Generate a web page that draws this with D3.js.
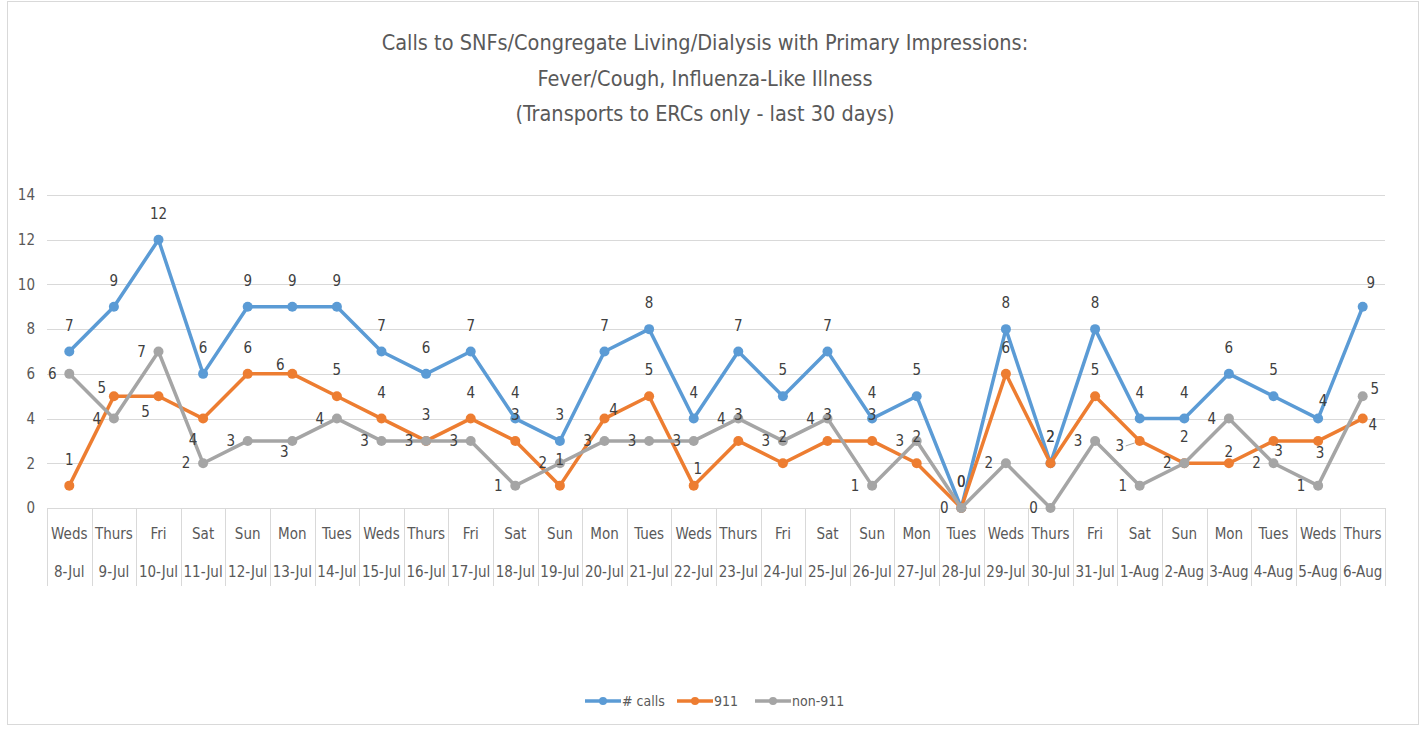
<!DOCTYPE html>
<html>
<head>
<meta charset="utf-8">
<script src="https://cdn.jsdelivr.net/npm/d3@7"></script>
<style>
  body { margin: 0; background: #fff; }
  svg text { font-family: "Liberation Sans Narrow", "DejaVu Sans Condensed", sans-serif; fill: #595959; }
</style>
</head>
<body>
<svg id="chart" width="1426" height="731"></svg>
<script>

// chart data
var days = [ 'Weds', 'Thurs', 'Fri', 'Sat', 'Sun', 'Mon', 'Tues', 'Weds', 'Thurs', 'Fri', 'Sat', 'Sun', 'Mon', 'Tues', 'Weds',
             'Thurs', 'Fri', 'Sat', 'Sun', 'Mon', 'Tues', 'Weds', 'Thurs', 'Fri', 'Sat', 'Sun', 'Mon', 'Tues', 'Weds', 'Thurs' ];
var dates = [ '8-Jul', '9-Jul', '10-Jul', '11-Jul', '12-Jul', '13-Jul', '14-Jul', '15-Jul', '16-Jul', '17-Jul', '18-Jul', '19-Jul',
              '20-Jul', '21-Jul', '22-Jul', '23-Jul', '24-Jul', '25-Jul', '26-Jul', '27-Jul', '28-Jul', '29-Jul', '30-Jul', '31-Jul',
              '1-Aug', '2-Aug', '3-Aug', '4-Aug', '5-Aug', '6-Aug' ];
var calls  = [ 7, 9, 12, 6, 9, 9, 9, 7, 6, 7, 4, 3, 7, 8, 4, 7, 5, 7, 4, 5, 0, 8, 2, 8, 4, 4, 6, 5, 4, 9 ];
var calls911 = [ 1, 5, 5, 4, 6, 6, 5, 4, 3, 4, 3, 1, 4, 5, 1, 3, 2, 3, 3, 2, 0, 6, 2, 5, 3, 2, 2, 3, 3, 4 ];
var callsNon911 = [ 6, 4, 7, 2, 3, 3, 4, 3, 3, 3, 1, 2, 3, 3, 3, 4, 3, 4, 1, 3, 0, 2, 0, 3, 1, 2, 4, 2, 1, 5 ];
var yTicks = [ 0, 2, 4, 6, 8, 10, 12, 14 ];
var titleLines = [ 'Calls to SNFs/Congregate Living/Dialysis with Primary Impressions:',
                   'Fever/Cough, Influenza-Like Illness',
                   '(Transports to ERCs only - last 30 days)' ];

// data label placement: default offset plus a few hand-moved labels (index -> [dx, dy])
var series = [
    { name: '# calls', values: calls, color: '#5B9BD5', pos: [ 0, -26 ],
      moved: { 28: [ 5, -18 ], 29: [ 8, -24 ] } },
    { name: '911', values: calls911, color: '#ED7D31', pos: [ 0, -26 ],
      moved: { 1: [ -12, -8 ], 2: [ -13, 16 ], 3: [ -10, 21 ], 5: [ -12, -9 ], 12: [ 9, -9 ], 14: [ 4, -17 ],
               24: [ -20, 5 ], 26: [ 0, -11 ], 27: [ 5, 10 ], 28: [ 2, 12 ], 29: [ 10, 6 ] } },
    { name: 'non-911', values: callsNon911, color: '#A5A5A5', pos: [ -17, 0 ],
      moved: { 5: [ -8, 11 ], 29: [ 12, -7 ] } }
];

var svg = d3.select('#chart');

var plotLeft = 47, plotRight = 1385, plotTop = 195, plotBottom = 508;

var x = d3.scaleBand()
    .domain( d3.range( days.length ) )
    .range([ plotLeft, plotRight ]);

var y = d3.scaleLinear()
    .domain([ 0, 14 ])
    .range([ plotBottom, plotTop ]);

function cx ( i ) { return x( i ) + x.bandwidth() / 2; }

// frame
svg.append('rect')
    .attr('x', 7.5).attr('y', 1.5)
    .attr('width', 1411).attr('height', 723)
    .attr('fill', 'none')
    .attr('stroke', '#D9D9D9');

// title
svg.append('text')
    .attr('x', 705)
    .attr('y', 50)
    .attr('text-anchor', 'middle')
    .style('font-size', '21.5px')
    .selectAll('tspan')
    .data( titleLines )
    .enter().append('tspan')
    .attr('x', 705)
    .attr('dy', function ( d, i ) { return i ? 35.5 : 0; })
    .text( function ( d ) { return d; });

// gridlines
svg.append('g')
    .selectAll('line')
    .data( yTicks )
    .enter().append('line')
    .attr('x1', plotLeft).attr('x2', plotRight)
    .attr('y1', function ( d ) { return Math.round( y( d ) ) + 0.5; })
    .attr('y2', function ( d ) { return Math.round( y( d ) ) + 0.5; })
    .attr('stroke', '#D9D9D9')
    .attr('stroke-width', 1);

// y labels
svg.append('g')
    .selectAll('text')
    .data( yTicks )
    .enter().append('text')
    .attr('x', 35)
    .attr('y', function ( d ) { return y( d ); })
    .attr('dy', '0.35em')
    .attr('text-anchor', 'end')
    .style('font-size', '15px')
    .text( function ( d ) { return d; });

// category dividers
var edges = d3.range( days.length + 1 ).map( function ( i ) { return plotLeft + i * x.bandwidth(); });

svg.append('g')
    .selectAll('line')
    .data( edges )
    .enter().append('line')
    .attr('x1', function ( d ) { return Math.round( d ) + 0.5; })
    .attr('x2', function ( d ) { return Math.round( d ) + 0.5; })
    .attr('y1', plotBottom)
    .attr('y2', 586)
    .attr('stroke', '#D9D9D9');

var cat = svg.append('g')
    .selectAll('g')
    .data( days )
    .enter().append('g')
    .attr('transform', function ( d, i ) { return 'translate(' + cx( i ) + ',0)'; });

cat.append('text')
    .attr('y', 539)
    .attr('text-anchor', 'middle')
    .style('font-size', '15px')
    .text( function ( d ) { return d; });

cat.append('text')
    .attr('y', 577)
    .attr('text-anchor', 'middle')
    .style('font-size', '15px')
    .text( function ( d, i ) { return dates[ i ]; });

// lines
var line = d3.line()
    .x( function ( d, i ) { return cx( i ); })
    .y( function ( d ) { return y( d ); });

series.forEach( function ( s ) {

    var g = svg.append('g');

    g.append('path')
        .datum( s.values )
        .attr('d', line)
        .attr('fill', 'none')
        .attr('stroke', s.color)
        .attr('stroke-width', 3.5)
        .attr('stroke-linejoin', 'round');

    g.selectAll('circle')
        .data( s.values )
        .enter().append('circle')
        .attr('cx', function ( d, i ) { return cx( i ); })
        .attr('cy', function ( d ) { return y( d ); })
        .attr('r', 5)
        .attr('fill', s.color);

});

// data labels
series.forEach( function ( s ) {

    function off ( i ) { return s.moved[ i ] || s.pos; }

    svg.append('g')
        .selectAll('text')
        .data( s.values )
        .enter().append('text')
        .attr('x', function ( d, i ) { return cx( i ) + off( i )[ 0 ]; })
        .attr('y', function ( d ) { return y( d ); })
        .attr('dy', function ( d, i ) { return off( i )[ 1 ] + 5; })
        .attr('text-anchor', 'middle')
        .style('font-size', '15px')
        .style('fill', '#404040')
        .text( function ( d ) { return d; });

});

// leader line for the moved 1-Aug label
svg.append('line')
    .attr('x1', cx( 24 ) - 14).attr('x2', cx( 24 ) - 5)
    .attr('y1', y( calls911[ 24 ] ) + 5).attr('y2', y( calls911[ 24 ] ) + 2)
    .attr('stroke', '#A6A6A6');

// legend
var legend = svg.append('g')
    .attr('transform', 'translate(0,701)');

var legendX = [ 585, 677, 755 ];

series.forEach( function ( s, i ) {

    var lg = legend.append('g')
        .attr('transform', 'translate(' + legendX[ i ] + ',0)');

    lg.append('line')
        .attr('x1', 0).attr('x2', 36)
        .attr('stroke', s.color)
        .attr('stroke-width', 3.5);

    lg.append('circle')
        .attr('cx', 18)
        .attr('r', 4)
        .attr('fill', s.color);

    lg.append('text')
        .attr('x', 37)
        .attr('dy', '0.35em')
        .style('font-size', '14px')
        .text( s.name );

});

</script>
</body>
</html>
